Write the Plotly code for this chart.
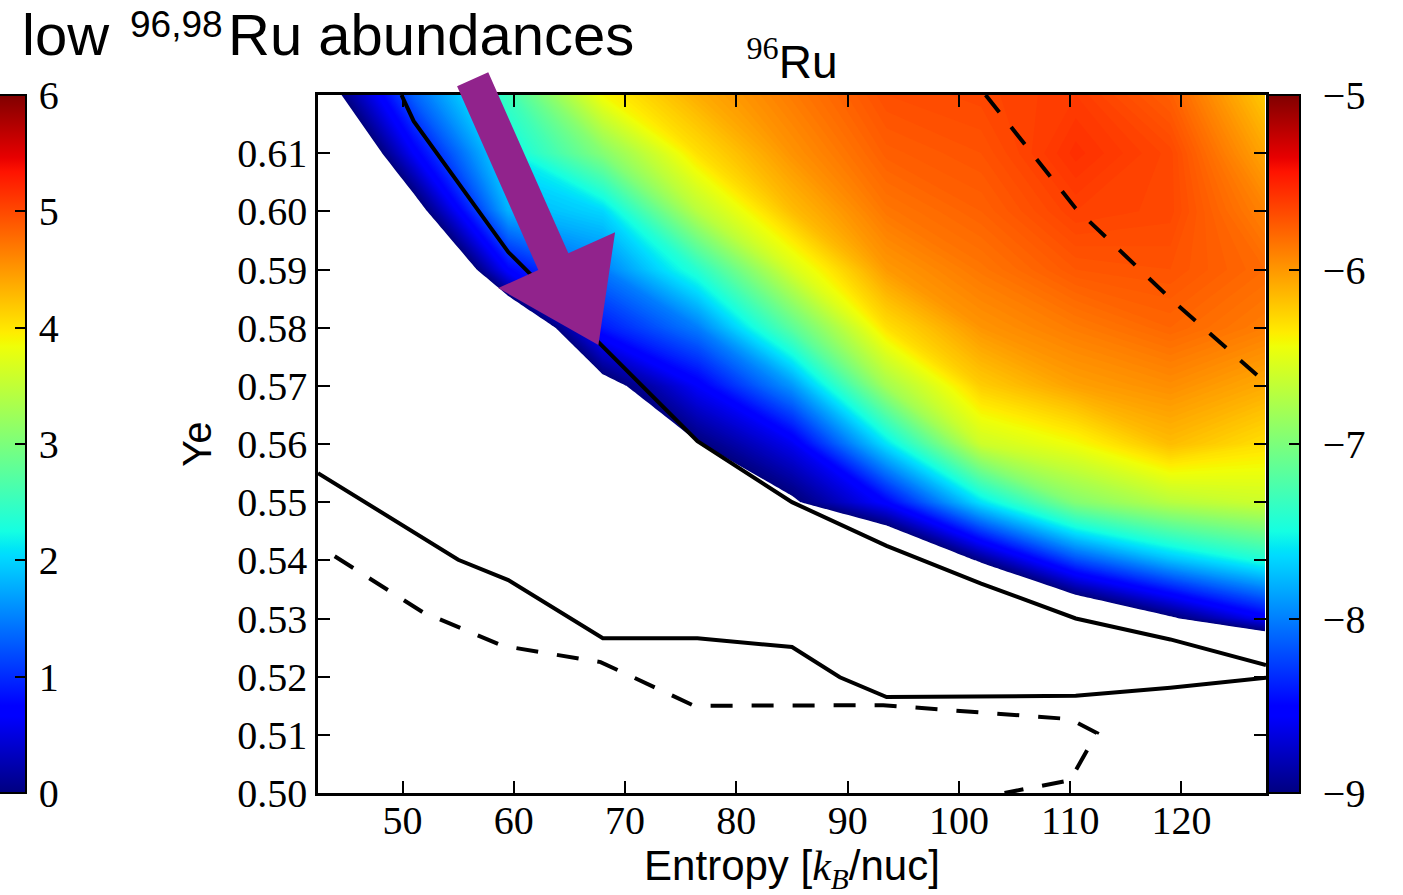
import numpy as np
import plotly.graph_objects as go

# ---- grid of the abundance map -------------------------------------------
entropy = [42.5, 51.0, 59.5, 68.0, 76.5, 85.0, 93.5, 102.0, 110.5, 119.0, 127.5]
ye = [0.50, 0.51, 0.52, 0.53, 0.54, 0.55, 0.56, 0.57, 0.58, 0.59, 0.60, 0.61, 0.62]

# log10 abundance of 96Ru, one row per Ye value (ascending)
log_ru96 = [
    [-17.0, -15.8, -15.0, -14.2, -13.7, -13.3, -13.0, -12.7, -12.5, -12.3, -12.3],
    [-16.4, -15.2, -14.4, -13.6, -13.1, -12.7, -12.3, -12.0, -11.7, -11.5, -11.5],
    [-15.8, -14.6, -13.8, -13.0, -12.5, -12.0, -11.6, -11.2, -10.8, -10.5, -10.6],
    [-15.2, -14.0, -13.2, -12.4, -11.8, -11.2, -10.8, -10.2, -9.55, -9.05, -8.55],
    [-14.6, -13.4, -12.5, -11.6, -11.0, -10.3, -9.75, -8.95, -8.2, -7.75, -7.45],
    [-14.0, -12.8, -11.8, -10.8, -10.2, -9.05, -8.5, -7.6, -6.95, -6.7, -6.6],
    [-13.4, -12.1, -11.1, -10.0, -9.02, -8.6, -7.6, -6.6, -6.42, -6.15, -6.3],
    [-12.7, -11.4, -10.4, -9.15, -8.55, -7.9, -6.8, -6.22, -6.03, -5.95, -6.07],
    [-12.0, -10.7, -9.6, -8.4, -8.0, -7.15, -6.3, -5.98, -5.87, -5.78, -5.88],
    [-11.3, -10.0, -8.5, -8.0, -7.4, -6.55, -6.0, -5.85, -5.72, -5.7, -5.8],
    [-10.6, -9.2, -7.8, -7.65, -6.7, -6.15, -5.85, -5.76, -5.62, -5.65, -5.9],
    [-9.9, -8.55, -7.55, -6.95, -6.3, -5.97, -5.75, -5.7, -5.55, -5.65, -6.05],
    [-9.28, -8.1, -7.3, -6.4, -6.08, -5.87, -5.68, -5.65, -5.6, -5.75, -6.2],
]

# overlaid contour lines of the companion quantity
solid_upper_s = [49.9, 51.0, 59.5, 68.0, 76.5, 85.0, 93.5, 102.0, 110.5, 119.0, 127.6]
solid_upper_ye = [0.6200, 0.6155, 0.5930, 0.5767, 0.5605, 0.5500, 0.5425, 0.5360, 0.5300, 0.5264, 0.5220]

solid_lower_s = [42.4, 55.0, 59.5, 68.0, 76.5, 85.0, 89.3, 93.5, 110.5, 119.0, 127.6]
solid_lower_ye = [0.5550, 0.5401, 0.5366, 0.5266, 0.5266, 0.5251, 0.5199, 0.5165, 0.5167, 0.5181, 0.5198]

dashed_lower_s = [43.9, 51.8, 59.0, 67.8, 76.2, 93.2, 110.0, 112.4, 110.0, 104.1]
dashed_lower_ye = [0.5407, 0.5311, 0.5253, 0.5225, 0.5150, 0.5151, 0.5127, 0.5103, 0.5022, 0.5000]

dashed_upper_s = [102.4, 110.5, 119.0, 127.6]
dashed_upper_ye = [0.6200, 0.6005, 0.5850, 0.5705]

# highlight arrow outline (entropy, Ye)
arrow_s = [54.9, 57.7, 64.9, 69.1, 67.6, 58.6, 62.2]
arrow_ye = [0.6215, 0.6239, 0.5928, 0.5964, 0.5770, 0.5868, 0.5899]

x_range = [42.4, 127.6]
y_range = [0.50, 0.62]
z_min, z_max, z_step = -9.0, -5.0, 0.02
right_ticks = [-9, -8, -7, -6, -5]
left_ticks = [0, 1, 2, 3, 4, 5, 6]


def jet_scale():
    """matplotlib 'jet' as a plotly colorscale."""
    red = [(0, 0), (0.35, 0), (0.66, 1), (0.89, 1), (1, 0.5)]
    green = [(0, 0), (0.125, 0), (0.375, 1), (0.64, 1), (0.91, 0), (1, 0)]
    blue = [(0, 0.5), (0.11, 1), (0.34, 1), (0.65, 0), (1, 0)]
    stops = sorted({p for seg in (red, green, blue) for p, _ in seg})
    out = []
    for s in stops:
        r = np.interp(s, *zip(*red))
        g = np.interp(s, *zip(*green))
        b = np.interp(s, *zip(*blue))
        out.append([s, f"rgb({int(round(r*255))},{int(round(g*255))},{int(round(b*255))})"])
    return out


jet = jet_scale()

# contour fill: the band below the lowest level stays white
n_bands = int(np.floor((z_max - z_min) / z_step + 1e-6)) + 1
off = 1.0 / n_bands
fill_scale = [[0.0, "white"]] + [[off + s * (1 - off), c] for s, c in jet]

serif = "Liberation Serif"
sans = "Liberation Sans"

fig = go.Figure()

fig.add_trace(go.Contour(
    x=entropy, y=ye, z=log_ru96,
    colorscale=fill_scale, showscale=False,
    contours=dict(start=z_min, end=z_max, size=z_step, coloring="fill", showlines=False),
    line=dict(width=0, smoothing=0), hoverinfo="skip",
))

for xs, ys, dash in [
    (solid_upper_s, solid_upper_ye, "solid"),
    (solid_lower_s, solid_lower_ye, "solid"),
    (dashed_lower_s, dashed_lower_ye, "22px,19px"),
    (dashed_upper_s, dashed_upper_ye, "22px,19px"),
]:
    fig.add_trace(go.Scatter(x=xs, y=ys, mode="lines",
                             line=dict(color="black", width=4, dash=dash),
                             hoverinfo="skip", showlegend=False))

# colour bar of the map (right)
fig.add_trace(go.Scatter(
    x=[entropy[5]], y=[ye[6]], mode="markers", hoverinfo="skip", showlegend=False,
    marker=dict(size=1, opacity=0, color=[z_min], colorscale=jet, cmin=z_min, cmax=z_max,
                showscale=True,
                colorbar=dict(x=(1268 - 318) / 948, xanchor="left", xpad=0, ypad=0,
                              y=0.5, yanchor="middle", len=1, thickness=32,
                              outlinewidth=2, outlinecolor="black",
                              tickvals=right_ticks,
                              ticktext=["\u2004\u2212" + str(abs(v)) for v in right_ticks],
                              ticks="inside", ticklen=12,
                              tickwidth=1.5, tickcolor="black",
                              tickfont=dict(family=serif, size=40, color="black"))),
))

# colour bar of the neighbouring panel (left)
fig.add_trace(go.Scatter(
    x=[entropy[5]], y=[ye[6]], mode="markers", hoverinfo="skip", showlegend=False,
    marker=dict(size=1, opacity=0, color=[left_ticks[0]], colorscale=jet,
                cmin=left_ticks[0], cmax=left_ticks[-1], showscale=True,
                colorbar=dict(x=(-2 - 318) / 948, xanchor="left", xpad=0, ypad=0,
                              y=0.5, yanchor="middle", len=1, thickness=28,
                              outlinewidth=2, outlinecolor="black",
                              tickvals=left_ticks,
                              ticktext=["\u200a" + str(v) for v in left_ticks],
                              ticks="inside", ticklen=12,
                              tickwidth=1.5, tickcolor="black",
                              tickfont=dict(family=serif, size=40, color="black"))),
))

# arrow outline converted to axis-domain fractions
fx = [(s - x_range[0]) / (x_range[1] - x_range[0]) for s in arrow_s]
fy = [(v - y_range[0]) / (y_range[1] - y_range[0]) for v in arrow_ye]
path = "M " + " L ".join(f"{a:.5f},{b:.5f}" for a, b in zip(fx, fy)) + " Z"
fig.add_shape(type="path", path=path, xref="x domain", yref="y domain",
              fillcolor="#91238C", line=dict(width=0), layer="above")

# headline "low 96,98Ru abundances" (mass numbers raised)
plot_left, plot_top, plot_w, plot_h = 318, 95, 948, 698
for txt, left_px, mid_px, size in [
    ("low", 20, 35, 58),
    ("96,98", 128, 24, 37),
    ("Ru abundances", 226, 35, 58),
]:
    fig.add_annotation(
        text=txt, xref="paper", yref="paper",
        x=(left_px - plot_left) / plot_w, y=1 + (plot_top - mid_px) / plot_h,
        xanchor="left", yanchor="middle", showarrow=False,
        font=dict(family=sans, size=size, color="black"),
    )

axis_common = dict(showline=True, linewidth=2.5, linecolor="black", mirror="ticks",
                   ticks="inside", ticklen=12, tickwidth=1.5, tickcolor="black",
                   showgrid=False, zeroline=False,
                   tickfont=dict(family=serif, size=40, color="black"))

fig.update_layout(
    width=1403, height=895, autosize=False,
    margin=dict(l=318, r=137, t=95, b=102, autoexpand=False),
    paper_bgcolor="white", plot_bgcolor="white",
    showlegend=False,
    title=dict(text='<sup><span style="font-family:Liberation Serif">96</span></sup>Ru',
               x=0.5, xref="paper", xanchor="center",
               y=1 - 62 / 895, yref="container", yanchor="middle",
               font=dict(family=sans, size=46, color="black")),
    xaxis=dict(range=x_range, tickvals=[50, 60, 70, 80, 90, 100, 110, 120],
               ticklabelstandoff=-10,
               title=dict(text='Entropy [<span style="font-family:Liberation Serif"><i>k</i><sub><i>B</i></sub></span>/nuc]',
                          font=dict(family=sans, size=42, color="black"), standoff=30),
               **axis_common),
    yaxis=dict(range=y_range, tickvals=ye[:-1], tickformat=".2f",
               title=dict(text="Ye", font=dict(family=sans, size=40, color="black"), standoff=14),
               **axis_common),
)

fig.write_html("out.html")
